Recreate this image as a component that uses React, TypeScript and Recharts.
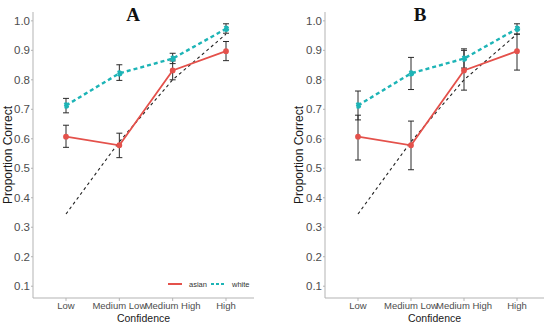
import React from 'react';
import { LineChart, Line, XAxis, YAxis, ErrorBar, Label } from 'recharts';

const categories = ['Low', 'Medium Low', 'Medium High', 'High'];
const asian = [0.607, 0.578, 0.832, 0.897];
const white = [0.713, 0.822, 0.872, 0.973];
const diagonal = [0.345, 0.59, 0.8, 0.955];
const yTicks = [0.1, 0.2, 0.3, 0.4, 0.5, 0.6, 0.7, 0.8, 0.9, 1.0];

// error bar ends, panel A
const asianLowA = [0.571, 0.536, 0.8, 0.865];
const asianHighA = [0.646, 0.619, 0.864, 0.93];
const whiteLowA = [0.688, 0.798, 0.855, 0.958];
const whiteHighA = [0.737, 0.851, 0.89, 0.99];

// error bar ends, panel B
const asianLowB = [0.528, 0.495, 0.765, 0.833];
const asianHighB = [0.68, 0.66, 0.9, 0.955];
const whiteLowB = [0.664, 0.767, 0.84, 0.955];
const whiteHighB = [0.762, 0.876, 0.905, 0.99];

const RED = '#E4514B';
const TEAL = '#1DB4B6';
const AXIS = '#b3b3b3';
const FONT = '"Liberation Sans", Arial, sans-serif';

const buildRows = (aLo: number[], aHi: number[], wLo: number[], wHi: number[]) =>
  categories.map((c, i) => ({
    conf: c,
    asian: asian[i],
    white: white[i],
    diag: diagonal[i],
    asianErr: [asian[i] - aLo[i], aHi[i] - asian[i]],
    whiteErr: [white[i] - wLo[i], wHi[i] - white[i]],
  }));

const rowsA = buildRows(asianLowA, asianHighA, whiteLowA, whiteHighA);
const rowsB = buildRows(asianLowB, asianHighB, whiteLowB, whiteHighB);

const YTitle = ({ viewBox, lx }: any) => {
  const cy = viewBox.y + viewBox.height / 2;
  return (
    <text x={lx} y={cy} transform={`rotate(-90 ${lx} ${cy})`} textAnchor="middle"
      dominantBaseline="central" fontSize={12} fill="#1a1a1a" fontFamily={FONT}>
      Proportion Correct
    </text>
  );
};

// legend sits inside panel A, bottom right
const LegendBox = () => (
  <svg width={90} height={12} style={{ position: 'absolute', left: 165, top: 278 }}>
    <line x1={3} x2={17} y1={6} y2={6} stroke={RED} strokeWidth={2} />
    <text x={24} y={8.5} fontSize={7.5} fill="#333" fontFamily={FONT}>asian</text>
    <line x1={46} x2={60} y1={6} y2={6} stroke={TEAL} strokeWidth={2} strokeDasharray="3 2" />
    <text x={67} y={8.5} fontSize={7.5} fill="#333" fontFamily={FONT}>white</text>
  </svg>
);

type PanelProps = {
  rows: any[];
  left: number;
  right: number;
  labelX: number;
  pad: { left: number; right: number };
};

const Panel = ({ rows, left, right, labelX, pad }: PanelProps) => (
  <LineChart width={275} height={329} data={rows} margin={{ top: 12, right, bottom: 0, left }}>
    <XAxis dataKey="conf" padding={pad} stroke={AXIS} tickSize={3} tickMargin={1}
      tick={{ fontSize: 9.5, fill: '#4d4d4d', fontFamily: FONT }} height={31} interval={0}>
      <Label value="Confidence" position="insideBottom" offset={7}
        style={{ fontSize: 10.5, fill: '#1a1a1a', fontFamily: FONT }} />
    </XAxis>
    <YAxis type="number" domain={[0.06, 1.03]} ticks={yTicks} allowDataOverflow width={33}
      stroke={AXIS} tickSize={2} tickMargin={1} tickFormatter={(v: number) => v.toFixed(1)}
      tick={{ fontSize: 11.5, fill: '#4d4d4d', fontFamily: FONT }}>
      <Label content={(p: any) => <YTitle {...p} lx={labelX} />} />
    </YAxis>
    <Line dataKey="diag" stroke="#222" strokeWidth={1.1} strokeDasharray="3 3" dot={false}
      isAnimationActive={false} />
    <Line dataKey="asian" stroke={RED} strokeWidth={1.8} isAnimationActive={false}
      dot={{ r: 2, fill: RED, stroke: RED }}>
      <ErrorBar dataKey="asianErr" width={3} strokeWidth={1} stroke="#2a2a2a" direction="y" />
    </Line>
    <Line dataKey="white" stroke={TEAL} strokeWidth={2.4} strokeDasharray="4 3" isAnimationActive={false}
      dot={{ r: 2, fill: TEAL, stroke: TEAL }}>
      <ErrorBar dataKey="whiteErr" width={3} strokeWidth={1} stroke="#2a2a2a" direction="y" />
    </Line>
  </LineChart>
);

const titleStyle: React.CSSProperties = {
  position: 'absolute',
  top: 5,
  fontFamily: '"Liberation Serif", "Times New Roman", serif',
  fontWeight: 'bold',
  fontSize: 19,
  lineHeight: '19px',
  color: '#111',
  width: 40,
  textAlign: 'center',
};

export default function App() {
  return (
    <div style={{ position: 'absolute', left: 0, top: 0, width: 550, height: 329, background: '#fff' }}>
      <div style={{ position: 'absolute', left: 0, top: 0 }}>
        <Panel rows={rowsA} left={0} right={21} labelX={8} pad={{ left: 33, right: 28 }} />
        <LegendBox />
      </div>
      <div style={{ position: 'absolute', left: 275, top: 0 }}>
        <Panel rows={rowsB} left={17} right={6} labelX={24} pad={{ left: 33, right: 27 }} />
      </div>
      <div style={{ ...titleStyle, left: 133 - 20 }}>A</div>
      <div style={{ ...titleStyle, left: 420 - 20 }}>B</div>
    </div>
  );
}
